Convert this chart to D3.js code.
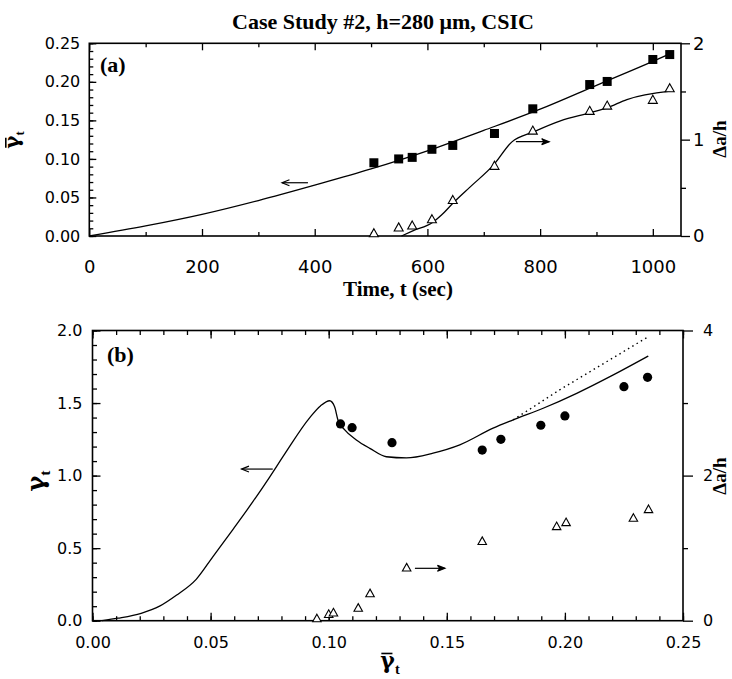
<!DOCTYPE html>
<html>
<head>
<meta charset="utf-8">
<script src="https://cdnjs.cloudflare.com/ajax/libs/d3/7.8.5/d3.min.js"></script>
<style>
body { margin: 0; background: #fff; }
</style>
</head>
<body>
<svg id="chart" width="732" height="679"></svg>
<script>
// measured points (a) : time vs gamma bar and crack growth
var times = [505, 549, 573, 608, 645, 719, 787, 888, 919, 1000, 1030]
var gammaBar = [0.095, 0.100, 0.102, 0.1125, 0.1175, 0.133, 0.165, 0.1965, 0.2005, 0.229, 0.2354]
var crackGrowth = [0.02, 0.08, 0.10, 0.165, 0.365, 0.72, 1.085, 1.29, 1.345, 1.405, 1.525]

// fitted curves (a)
var fitTime = [0, 100, 200, 300, 400, 500, 600, 700, 800, 900, 1000, 1031]
var fitGammaBar = [0, 0.013, 0.028, 0.046, 0.066, 0.087, 0.1105, 0.137, 0.1645, 0.1955, 0.2265, 0.2366]
var crackFitTime = [554, 575, 609, 625, 646, 676, 717, 750, 788, 836, 888, 919, 954, 1031]
var crackFitValue = [0, 0.055, 0.14, 0.218, 0.345, 0.51, 0.735, 0.977, 1.08, 1.195, 1.278, 1.33, 1.416, 1.503]

// (b) : gamma vs gamma bar
var circleGammaBar = [0.105, 0.1099, 0.1268, 0.165, 0.1729, 0.1898, 0.2, 0.225, 0.235]
var circleGamma = [1.356, 1.330, 1.227, 1.176, 1.250, 1.347, 1.411, 1.613, 1.677]
var fitGammaBarB = [0.004, 0.0107, 0.0206, 0.0284, 0.0355, 0.0439, 0.051, 0.0595, 0.0679, 0.075, 0.0814, 0.092, 0.0965, 0.1004, 0.1025, 0.1039, 0.1068, 0.1117, 0.1174, 0.1244, 0.1329, 0.1442, 0.1555, 0.1696, 0.1781, 0.1908, 0.205, 0.2205, 0.2353]
var fitGammaB = [0, 0.017, 0.051, 0.1, 0.175, 0.285, 0.442, 0.63, 0.82, 0.99, 1.15, 1.4, 1.48, 1.516, 1.475, 1.384, 1.315, 1.246, 1.188, 1.13, 1.122, 1.155, 1.212, 1.327, 1.384, 1.464, 1.567, 1.694, 1.824]
var dotGammaBar = [0.1781, 0.1979, 0.2353]
var dotGamma = [1.384, 1.592, 1.957]

var serif = "'Liberation Serif', 'Times New Roman', serif"
var greek = "'DejaVu Serif', serif"
var sans = "'DejaVu Sans', sans-serif"

var svg = d3.select("#chart")

svg.append("text")
    .attr("x", 383).attr("y", 29)
    .attr("text-anchor", "middle")
    .style("font", "bold 22px " + serif)
    .text("Case Study #2, h=280 μm, CSIC")

function zip(a, b) { return a.map(function (v, i) { return [v, b[i]] }) }

function drawAxes(p) {
    var yb = p.y.range()[0], yt = p.y.range()[1]
    var x0 = p.x.range()[0], x1 = p.x.range()[1]
    var g = svg.append("g")

    g.append("g").attr("transform", "translate(0," + yb + ")")
        .call(d3.axisBottom(p.x).tickValues(p.xMajor).tickSize(-p.major).tickPadding(p.xPad).tickFormat(p.xFmt))
        .selectAll("text").style("font", p.xFont)
    g.append("g").attr("transform", "translate(0," + yb + ")")
        .call(d3.axisBottom(p.x).tickValues(p.xMinor).tickSize(-p.minor).tickFormat(""))
    g.append("g").attr("transform", "translate(0," + yt + ")")
        .call(d3.axisTop(p.x).tickValues(p.xMajor).tickSize(-p.major).tickFormat(""))
    g.append("g").attr("transform", "translate(0," + yt + ")")
        .call(d3.axisTop(p.x).tickValues(p.xMinor).tickSize(-p.minor).tickFormat(""))

    g.append("g").attr("transform", "translate(" + x0 + ",0)")
        .call(d3.axisLeft(p.y).tickValues(p.yMajor).tickSize(-p.major).tickPadding(p.yPad).tickFormat(p.yFmt))
        .selectAll("text").style("font", p.yFont)
    g.append("g").attr("transform", "translate(" + x0 + ",0)")
        .call(d3.axisLeft(p.y).tickValues(p.yMinor).tickSize(-p.minor).tickFormat(""))

    g.append("g").attr("transform", "translate(" + x1 + ",0)")
        .call(d3.axisRight(p.y2).tickValues(p.y2Major).tickSize(p.rMajor).tickPadding(p.rPad).tickFormat(d3.format("d")))
        .selectAll("text").style("font", p.rFont)
    g.append("g").attr("transform", "translate(" + x1 + ",0)")
        .call(d3.axisRight(p.y2).tickValues(p.y2Minor).tickSize(p.rMinor).tickFormat(""))

    g.selectAll(".domain").remove()
    g.selectAll("line").attr("stroke", "#000").attr("stroke-width", 1.3)
    g.selectAll("text").attr("fill", "#000")

    g.append("rect")
        .attr("x", x0).attr("y", yt)
        .attr("width", x1 - x0).attr("height", yb - yt)
        .attr("fill", "none").attr("stroke", "#000").attr("stroke-width", 1.6)
}

function arrow(xa, ya, xb, yb, filled) {
    var ang = Math.atan2(yb - ya, xb - xa), L = 8, s = 0.38
    svg.append("line").attr("x1", xa).attr("y1", ya).attr("x2", xb).attr("y2", yb)
        .attr("stroke", "#000").attr("stroke-width", 1.2)
    var p1 = [xb - L * Math.cos(ang - s), yb - L * Math.sin(ang - s)]
    var p2 = [xb - L * Math.cos(ang + s), yb - L * Math.sin(ang + s)]
    svg.append("path")
        .attr("d", "M" + p1 + "L" + [xb, yb] + "L" + p2 + (filled ? "L" + [xb - 5 * Math.cos(ang), yb - 5 * Math.sin(ang)] + "Z" : ""))
        .attr("fill", filled ? "#000" : "none").attr("stroke", "#000").attr("stroke-width", 1.2)
}

function triangle(w) {
    var h = w * 0.9
    return "M0," + (-h * 2 / 3) + "L" + (w / 2) + "," + (h / 3) + "L" + (-w / 2) + "," + (h / 3) + "Z"
}

// gamma with subscript t, optional bar on top
function gammaLabel(x, y, size, rotate, bar) {
    var g = svg.append("g").attr("transform", "translate(" + x + "," + y + ")" + (rotate ? " rotate(-90)" : ""))
    var t = g.append("text").attr("text-anchor", "middle").style("font", "bold " + size + "px " + greek)
    t.append("tspan").text("γ")
    t.append("tspan").attr("dy", size * 0.25).style("font", "bold " + (size * 0.65) + "px " + serif).text("t")
    if (bar) {
        var bb = t.node().getBBox()
        g.append("line")
            .attr("x1", bb.x + 1).attr("x2", bb.x + size * 0.55)
            .attr("y1", -size * 0.66).attr("y2", -size * 0.66)
            .attr("stroke", "#000").attr("stroke-width", 1.6)
    }
    return g
}

// ---------------- panel (a)
var xA = d3.scaleLinear().domain([0, 1050]).range([89.3, 681])
var yA = d3.scaleLinear().domain([0, 0.25]).range([236, 43.3])
var yA2 = d3.scaleLinear().domain([0, 2]).range([236, 43.3])

drawAxes({
    x: xA, y: yA, y2: yA2,
    xMajor: d3.range(0, 1001, 200), xMinor: d3.range(100, 1001, 200),
    yMajor: d3.range(0, 0.2501, 0.05), yMinor: d3.range(0, 0.2501, 0.01),
    y2Major: [0, 1, 2], y2Minor: [0.5, 1.5],
    major: 7, minor: 4, rMajor: 9, rMinor: 5,
    xPad: 24, yPad: 9, rPad: 3,
    xFmt: d3.format("d"), yFmt: d3.format(".2f"),
    xFont: "18px " + sans, yFont: "16px " + sans, rFont: "18px " + sans
})

var lineA = d3.line().curve(d3.curveMonotoneX)
svg.append("path")
    .attr("d", lineA(zip(fitTime, fitGammaBar).map(function (d) { return [xA(d[0]), yA(d[1])] })))
    .attr("fill", "none").attr("stroke", "#000").attr("stroke-width", 1.3)
svg.append("path")
    .attr("d", lineA(zip(crackFitTime, crackFitValue).map(function (d) { return [xA(d[0]), yA2(d[1])] })))
    .attr("fill", "none").attr("stroke", "#000").attr("stroke-width", 1.3)

svg.selectAll(".sq")
    .data(zip(times, gammaBar))
    .enter().append("rect")
    .attr("x", function (d) { return xA(d[0]) - 4.5 })
    .attr("y", function (d) { return yA(d[1]) - 4.5 })
    .attr("width", 9).attr("height", 9)
    .attr("fill", "#000")

svg.selectAll(".triA")
    .data(zip(times, crackGrowth))
    .enter().append("path")
    .attr("d", triangle(9))
    .attr("transform", function (d) { return "translate(" + xA(d[0]) + "," + yA2(d[1]) + ")" })
    .attr("fill", "#fff").attr("stroke", "#000").attr("stroke-width", 1.1)

arrow(xA(388), yA(0.0691), xA(342), yA(0.0691), false)
arrow(xA(757), yA2(0.979), xA(816), yA2(0.979), true)

svg.append("text").attr("x", 100).attr("y", 72)
    .style("font", "bold 22px " + serif).text("(a)")
svg.append("text").attr("x", 398).attr("y", 296).attr("text-anchor", "middle")
    .style("font", "bold 21px " + serif).text("Time, t (sec)")
gammaLabel(19, 140, 20, true, true)
svg.append("text").attr("transform", "translate(726,139) rotate(-90)").attr("text-anchor", "middle")
    .style("font", "bold 19px " + serif).text("Δa/h")

// ---------------- panel (b)
var xB = d3.scaleLinear().domain([0, 0.25]).range([92.5, 683])
var yB = d3.scaleLinear().domain([0, 2]).range([620.7, 330.5])
var yB2 = d3.scaleLinear().domain([0, 4]).range([620.7, 330.5])

drawAxes({
    x: xB, y: yB, y2: yB2,
    xMajor: d3.range(0, 0.2501, 0.05), xMinor: d3.range(0, 0.2501, 0.01),
    yMajor: d3.range(0, 2.01, 0.5), yMinor: d3.range(0, 2.01, 0.1),
    y2Major: [0, 2, 4], y2Minor: [1, 3],
    major: 8, minor: 4.5, rMajor: 10, rMinor: 5,
    xPad: 16, yPad: 10, rPad: 10,
    xFmt: d3.format(".2f"), yFmt: d3.format(".1f"),
    xFont: "16px " + sans, yFont: "16px " + sans, rFont: "16px " + sans
})

svg.append("path")
    .attr("d", lineA(zip(fitGammaBarB, fitGammaB).map(function (d) { return [xB(d[0]), yB(d[1])] })))
    .attr("fill", "none").attr("stroke", "#000").attr("stroke-width", 1.3)
svg.append("path")
    .attr("d", d3.line()(zip(dotGammaBar, dotGamma).map(function (d) { return [xB(d[0]), yB(d[1])] })))
    .attr("fill", "none").attr("stroke", "#000").attr("stroke-width", 1.4)
    .attr("stroke-dasharray", "1.5,3.5")

svg.selectAll(".circ")
    .data(zip(circleGammaBar, circleGamma))
    .enter().append("circle")
    .attr("cx", function (d) { return xB(d[0]) })
    .attr("cy", function (d) { return yB(d[1]) })
    .attr("r", 4.6).attr("fill", "#000")

svg.selectAll(".triB")
    .data(zip(gammaBar, crackGrowth))
    .enter().append("path")
    .attr("d", triangle(8.5))
    .attr("transform", function (d) { return "translate(" + xB(d[0]) + "," + yB2(d[1]) + ")" })
    .attr("fill", "#fff").attr("stroke", "#000").attr("stroke-width", 1.1)

arrow(xB(0.0763), yB(1.045), xB(0.0631), yB(1.045), false)
arrow(xB(0.1365), yB2(0.722), xB(0.1492), yB2(0.722), true)

svg.append("text").attr("x", 107).attr("y", 362)
    .style("font", "bold 22px " + serif).text("(b)")
gammaLabel(390, 668, 22, false, true)
gammaLabel(44, 481, 24, true, false)
svg.append("text").attr("transform", "translate(726,476) rotate(-90)").attr("text-anchor", "middle")
    .style("font", "bold 19px " + serif).text("Δa/h")
</script>
</body>
</html>
